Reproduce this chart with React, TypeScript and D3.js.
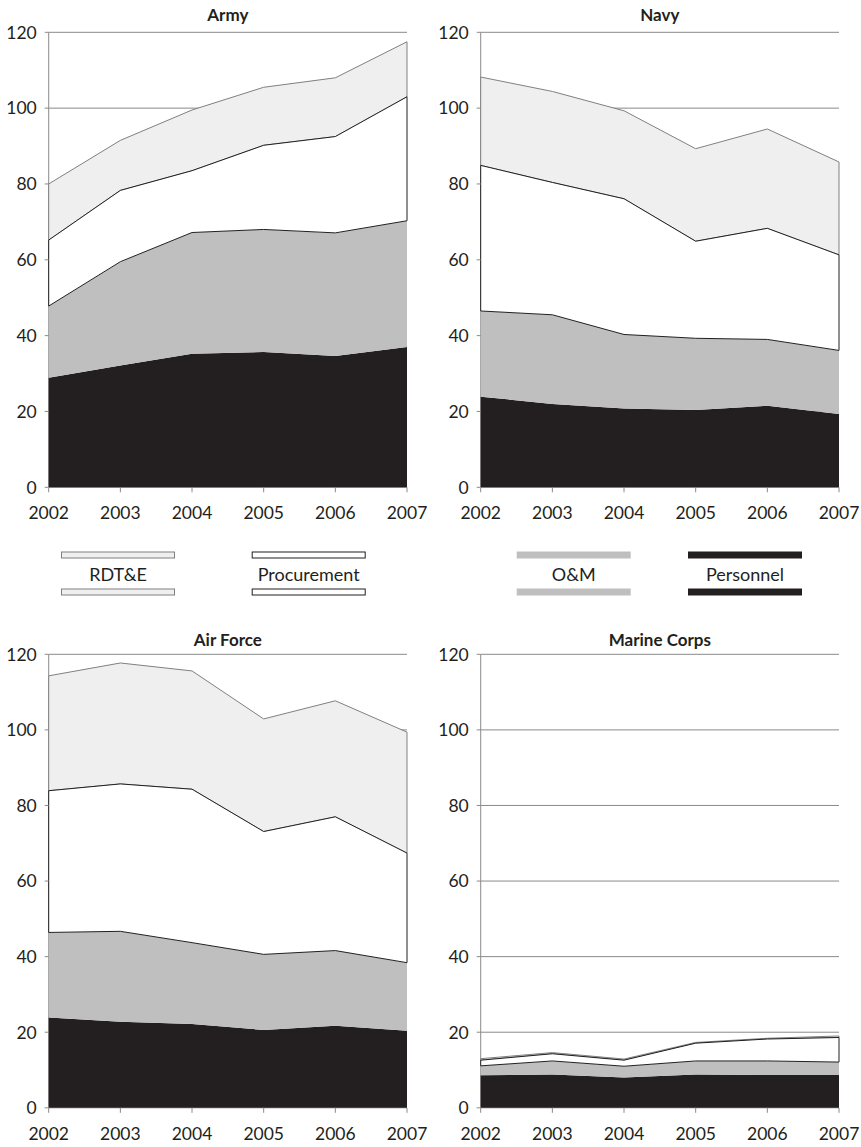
import React, { useEffect, useRef } from "react";
import * as d3 from "d3";

const years = [2002, 2003, 2004, 2005, 2006, 2007];
const yTicks = [0, 20, 40, 60, 80, 100, 120];
const categories = ["RDT&E", "Procurement", "O&M", "Personnel"];

const armyPersonnel = [28.9, 32.1, 35.2, 35.7, 34.6, 37.0];
const armyOM = [18.9, 27.4, 32.0, 32.3, 32.5, 33.3];
const armyProcurement = [17.4, 18.8, 16.3, 22.2, 25.4, 32.7];
const armyRDTE = [14.8, 13.2, 16.0, 15.3, 15.5, 14.5];

const navyPersonnel = [23.9, 22.0, 20.8, 20.4, 21.5, 19.3];
const navyOM = [22.6, 23.5, 19.5, 18.9, 17.5, 16.8];
const navyProcurement = [38.4, 34.9, 35.8, 25.6, 29.3, 25.2];
const navyRDTE = [23.3, 24.0, 23.2, 24.4, 26.2, 24.5];

const airForcePersonnel = [23.9, 22.8, 22.2, 20.6, 21.7, 20.4];
const airForceOM = [22.5, 23.9, 21.5, 20.0, 19.9, 18.0];
const airForceProcurement = [37.5, 39.0, 40.6, 32.5, 35.4, 29.0];
const airForceRDTE = [30.4, 32.0, 31.3, 29.8, 30.7, 32.0];

const marinePersonnel = [8.6, 8.8, 8.0, 8.8, 8.7, 8.7];
const marineOM = [2.5, 3.6, 3.0, 3.6, 3.7, 3.4];
const marineProcurement = [1.5, 1.9, 1.6, 4.7, 5.8, 6.5];
const marineRDTE = [0.4, 0.3, 0.3, 0.2, 0.2, 0.4];

const services = [
  { title: "Army", personnel: armyPersonnel, om: armyOM, procurement: armyProcurement, rdte: armyRDTE },
  { title: "Navy", personnel: navyPersonnel, om: navyOM, procurement: navyProcurement, rdte: navyRDTE },
  { title: "Air Force", personnel: airForcePersonnel, om: airForceOM, procurement: airForceProcurement, rdte: airForceRDTE },
  { title: "Marine Corps", personnel: marinePersonnel, om: marineOM, procurement: marineProcurement, rdte: marineRDTE },
];

const layouts = [
  { left: 48.7, right: 407, top: 32.3, bottom: 487.3, titleY: 21 },
  { left: 480.7, right: 839, top: 32.3, bottom: 487.3, titleY: 21 },
  { left: 48.7, right: 407, top: 654.3, bottom: 1107.8, titleY: 646 },
  { left: 480.7, right: 839, top: 654.3, bottom: 1107.8, titleY: 646 },
];

const styles: Record<string, { fill: string; stroke: string }> = {
  "RDT&E": { fill: "#efefef", stroke: "#808080" },
  Procurement: { fill: "#ffffff", stroke: "#231f20" },
  "O&M": { fill: "#bfbfbf", stroke: "none" },
  Personnel: { fill: "#231f20", stroke: "none" },
};

const legendCenters = [118, 308.7, 573.7, 745];
const FONT = "Lato, 'Open Sans', sans-serif";
const TEXT = "#231f20";
const GRID = "#8a8a8a";

export default function App() {
  const ref = useRef<SVGSVGElement>(null);

  useEffect(() => {
    const svg = d3.select(ref.current);
    svg.selectAll("*").remove();

    services.forEach((s, i) => {
      const L = layouts[i];
      const g = svg.append("g");
      const x = d3.scaleLinear().domain([2002, 2007]).range([L.left, L.right]);
      const y = d3.scaleLinear().domain([0, 120]).range([L.bottom, L.top]);

      const rows = years.map((yr, j) => ({
        year: yr,
        Personnel: s.personnel[j],
        "O&M": s.om[j],
        Procurement: s.procurement[j],
        "RDT&E": s.rdte[j],
      }));
      const stack = d3.stack<any>().keys(["Personnel", "O&M", "Procurement", "RDT&E"]);
      const series = stack(rows);
      const byKey: Record<string, any> = {};
      series.forEach((sr) => (byKey[sr.key] = sr));

      g.selectAll("line.grid")
        .data(yTicks.filter((t) => t > 0))
        .enter()
        .append("line")
        .attr("x1", L.left)
        .attr("x2", L.right)
        .attr("y1", (d) => y(d))
        .attr("y2", (d) => y(d))
        .attr("stroke", GRID)
        .attr("stroke-width", 1);

      g.append("line")
        .attr("x1", L.left).attr("x2", L.left)
        .attr("y1", y(120)).attr("y2", y(0))
        .attr("stroke", GRID);
      g.append("line")
        .attr("x1", L.left).attr("x2", L.right)
        .attr("y1", y(0)).attr("y2", y(0))
        .attr("stroke", GRID);

      const area = d3
        .area<any>()
        .x((d) => x(d.data.year))
        .y0((d) => y(d[0]))
        .y1((d) => y(d[1]));

      ["Personnel", "O&M", "RDT&E", "Procurement"].forEach((k) => {
        g.append("path")
          .attr("d", area(byKey[k]) as string)
          .attr("fill", styles[k].fill)
          .attr("stroke", styles[k].stroke)
          .attr("stroke-width", 1)
          .attr("stroke-linejoin", "round");
      });

      g.selectAll("line.ytick")
        .data(yTicks)
        .enter()
        .append("line")
        .attr("x1", L.left - 4)
        .attr("x2", L.left)
        .attr("y1", (d) => y(d))
        .attr("y2", (d) => y(d))
        .attr("stroke", GRID);
      g.selectAll("line.xtick")
        .data(years)
        .enter()
        .append("line")
        .attr("x1", (d) => x(d))
        .attr("x2", (d) => x(d))
        .attr("y1", y(0))
        .attr("y2", y(0) + 5)
        .attr("stroke", GRID);

      g.selectAll("text.ylab")
        .data(yTicks)
        .enter()
        .append("text")
        .attr("x", L.left - 12)
        .attr("y", (d) => y(d))
        .attr("dy", "0.36em")
        .attr("text-anchor", "end")
        .attr("font-family", FONT)
        .attr("font-size", 17.5)
        .attr("fill", TEXT)
        .text((d) => String(d));
      g.selectAll("text.xlab")
        .data(years)
        .enter()
        .append("text")
        .attr("x", (d) => x(d))
        .attr("y", y(0) + 32)
        .attr("text-anchor", "middle")
        .attr("font-family", FONT)
        .attr("font-size", 17.5)
        .attr("fill", TEXT)
        .text((d) => String(d));

      g.append("text")
        .attr("x", (L.left + L.right) / 2)
        .attr("y", L.titleY)
        .attr("text-anchor", "middle")
        .attr("font-family", FONT)
        .attr("font-weight", "bold")
        .attr("font-size", 17)
        .attr("fill", TEXT)
        .text(s.title);
    });

    const lg = svg.append("g");
    categories.forEach((c, i) => {
      const cx = legendCenters[i];
      const st = styles[c];
      const hasStroke = st.stroke !== "none";
      [551.5, 588.5].forEach((yy) => {
        lg.append("rect")
          .attr("x", cx - 57 + (hasStroke ? 0.5 : 0))
          .attr("y", yy + (hasStroke ? 0.5 : 0))
          .attr("width", 114 - (hasStroke ? 1 : 0))
          .attr("height", 7 - (hasStroke ? 1 : 0))
          .attr("fill", st.fill)
          .attr("stroke", st.stroke)
          .attr("stroke-width", 1);
      });
      lg.append("text")
        .attr("x", cx)
        .attr("y", 580.5)
        .attr("text-anchor", "middle")
        .attr("font-family", FONT)
        .attr("font-size", 18)
        .attr("fill", TEXT)
        .text(c);
    });
  }, []);

  return (
    <div style={{ position: "absolute", left: 0, top: 0 }}>
      <svg ref={ref} width={861} height={1147} style={{ display: "block" }} />
    </div>
  );
}
